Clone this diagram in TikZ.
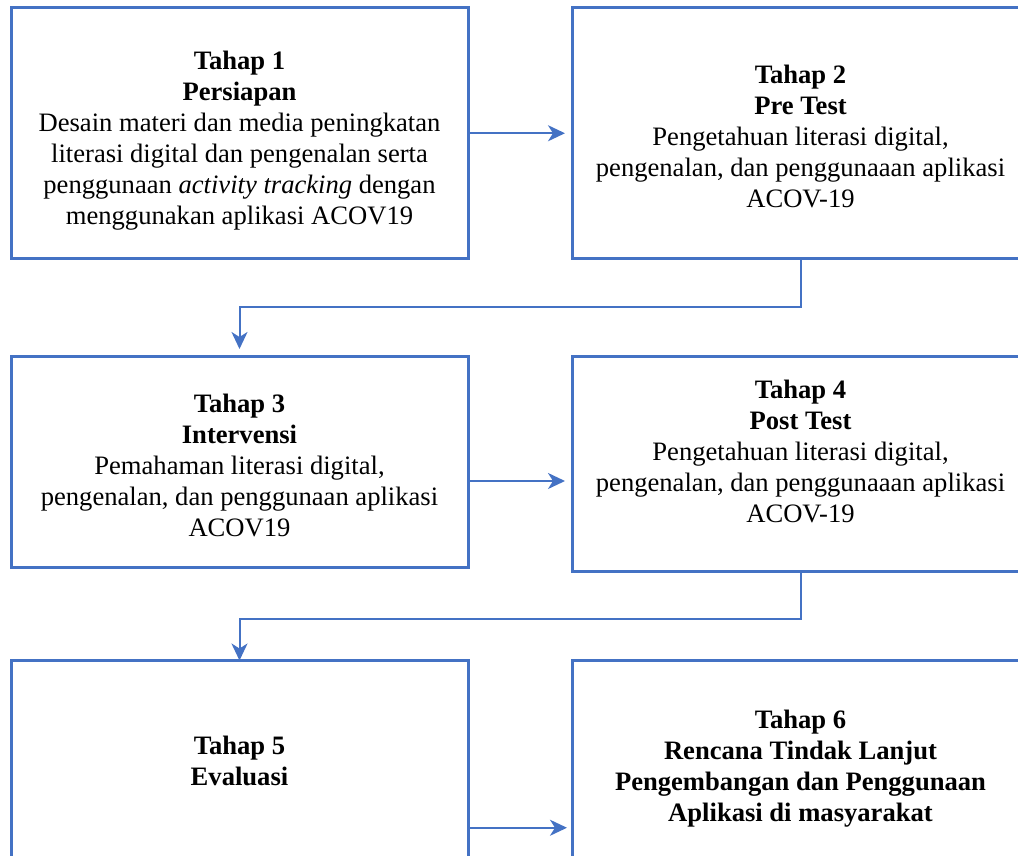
\documentclass[tikz,border=0pt]{standalone}
\usepackage{fontspec}
\setmainfont{Liberation Serif}[ItalicFont={Liberation Serif Italic},BoldFont={Liberation Serif Bold}]
\usetikzlibrary{positioning,arrows.meta}
\definecolor{boxblue}{RGB}{68,114,196}

\begin{document}
\begin{tikzpicture}[x=1pt,y=-1pt,->,>={Stealth[length=17pt,width=16pt,inset=5pt]},
                    node distance=104pt]
  \tikzstyle{stage}=[rectangle,draw=boxblue,line width=3pt,outer sep=0pt,minimum width=457pt]
  \tikzstyle{stagetext}=[align=center,text=black,font=\fontsize{26.6}{31}\selectfont]
  \tikzstyle{link}=[draw=boxblue,line width=2pt]

  \useasboundingbox (0,0) rectangle (1018,856);
  \clip (0,0) rectangle (1018,856);

  \node[stage,minimum height=250.5pt] (box1) at (239.5,133.25) {};
  \node[stage,minimum height=250.5pt,right=of box1] (box2) {};
  \node[stage,minimum height=211pt] (box3) at (239.5,461.5) {};
  \node[stage,minimum height=215pt,right=of box3.north east,anchor=north west] (box4) {};
  \node[stage,minimum height=199.5pt] (box5) at (239.5,760.25) {};
  \node[stage,minimum height=209pt,right=of box5.north east,anchor=north west] (box6) {};

  \node[stagetext] (t1) at ([yshift=-7.5pt]box1.center) {\textbf{Tahap 1}\\ \textbf{Persiapan}\\
    Desain materi dan media peningkatan\\ literasi digital dan pengenalan serta\\
    penggunaan \textit{activity tracking} dengan\\ menggunakan aplikasi ACOV19};
  \node[stagetext] (t2) at ([yshift=-3pt]box2.center) {\textbf{Tahap 2}\\ \textbf{Pre Test}\\
    Pengetahuan literasi digital,\\ pengenalan, dan penggunaaan aplikasi\\ ACOV-19};
  \node[stagetext] (t3) at ([yshift=-3.5pt]box3.center) {\textbf{Tahap 3}\\ \textbf{Intervensi}\\
    Pemahaman literasi digital,\\ pengenalan, dan penggunaan aplikasi\\ ACOV19};
  \node[stagetext] (t4) at ([yshift=12.5pt]box4.center) {\textbf{Tahap 4}\\ \textbf{Post Test}\\
    Pengetahuan literasi digital,\\ pengenalan, dan penggunaaan aplikasi\\ ACOV-19};
  \node[stagetext] (t5) at ([yshift=-1pt]box5.center) {\textbf{Tahap 5}\\ \textbf{Evaluasi}};
  \node[stagetext,font=\fontsize{26.6}{31}\selectfont\bfseries] (t6) at ([yshift=-4pt]box6.center)
    {Tahap 6\\ Rencana Tindak Lanjut\\ Pengembangan dan Penggunaan\\ Aplikasi di masyarakat};

  \coordinate (a3) at ([yshift=-19.5pt]box3.east);
  \coordinate (a5) at ([yshift=-67.5pt]box5.east);

  \draw[link,shorten >=7pt] (box1) -- (box2);
  \draw[link,shorten >=7pt] (box2.south) -- ++(0,48.75) -| (box3.north);
  \draw[link,shorten >=7pt] (a3) -- (a3 -| box4.west);
  \draw[link] (box4.south) -- ++(0,48) -| (box5.north);
  \draw[link,shorten >=5pt] (a5) -- (a5 -| box6.west);
\end{tikzpicture}
\end{document}
